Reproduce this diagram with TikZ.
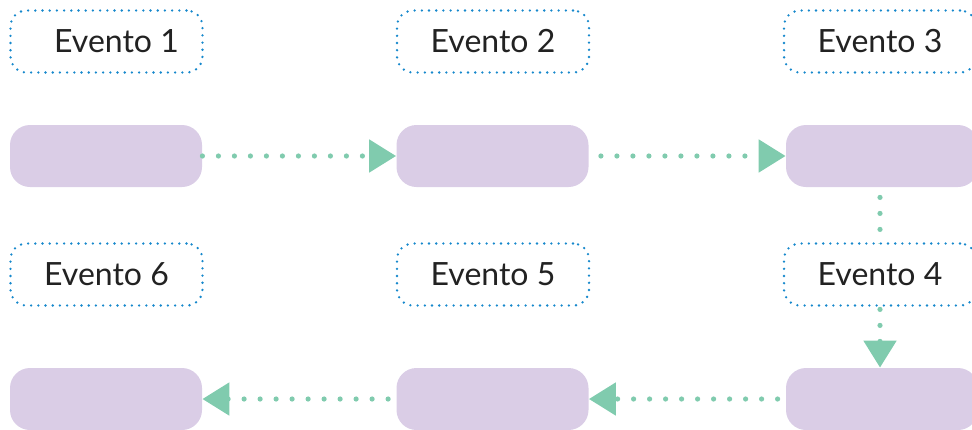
\documentclass[tikz,border=0pt]{standalone}
\usepackage{fontspec}
\setmainfont{Lato}
\definecolor{evPurple}{HTML}{DACDE6}
\definecolor{evGreen}{HTML}{80CBAE}
\definecolor{evBlue}{HTML}{1688CC}
\definecolor{evInk}{HTML}{222222}
\usepackage{tikz}
\usetikzlibrary{arrows.meta, positioning, backgrounds}

\begin{document}
\begin{tikzpicture}[x=0.5pt, y=-0.5pt,
    evbox/.style={rounded corners=10pt, fill=evPurple, draw=none,
      minimum width=96pt, minimum height=31pt, inner sep=0pt},
    evlabel/.style={rounded corners=8pt, fill=white, draw=evBlue, line width=1.3pt,
      dash pattern=on 0pt off 3.6pt, line cap=round, minimum width=96pt,
      minimum height=31pt, inner sep=0pt, text=evInk, font=\fontsize{16}{19}\selectfont},
    evlink/.style={draw=evGreen, line width=2.6pt, line cap=round,
      dash pattern=on 0pt off 8pt,
      -{Triangle[length=13.5pt, width=16pt, fill=evGreen]}}]
  \useasboundingbox (0,0) rectangle (972,429);
  % boxes
  \node[evbox] (ev1) at (106,156) {};
  \node[evbox] (ev2) at (492.5,156) {};
  \node[evbox] (ev3) at (882,156) {};
  \node[evbox] (ev4) at (882,399) {};
  \node[evbox] (ev5) at (492.5,399) {};
  \node[evbox] (ev6) at (106,399) {};
  % links
  \draw[evlink] (ev1.east) -- (ev2.west);
  \draw[evlink, shorten <=6pt] (ev2.east) -- (ev3.west);
  \draw[evlink, shorten <=5pt] (ev3.south -| 880,0) -- (ev4.north -| 880,0);
  \draw[evlink, shorten <=4pt] (ev4.west) -- (ev5.east);
  \draw[evlink, shorten <=4pt] (ev5.west) -- (ev6.east);
  % labels
  \node[evlabel] (lbl1) at (106.5,41.5) {\hspace{10pt}Evento 1};
  \node[evlabel] (lbl2) at (493,41.5) {Evento 2};
  \node[evlabel] (lbl3) at (880,41.5) {Evento 3};
  \node[evlabel] (lbl4) at (880,274.5) {Evento 4};
  \node[evlabel] (lbl5) at (493,274.5) {Evento 5};
  \node[evlabel] (lbl6) at (106.5,274.5) {Evento 6};
\end{tikzpicture}
\end{document}
